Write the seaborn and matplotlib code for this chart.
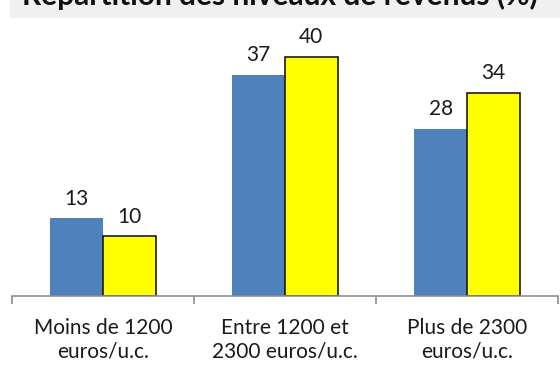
import matplotlib
matplotlib.use("Agg")
import matplotlib.pyplot as plt
from matplotlib.patches import Rectangle
import pandas as pd
import seaborn as sns

# Income brackets (per consumption unit) and the two series shown per bracket
categories = ["Moins de 1200\neuros/u.c.", "Entre 1200 et\n2300 euros/u.c.", "Plus de 2300\neuros/u.c."]
series_names = ["Ensemble", "Échantillon"]
values_first = [13, 37, 28]
values_second = [10, 40, 34]
title = "Répartition des niveaux de revenus (%)"

df = pd.DataFrame({
    "categorie": categories * 2,
    "serie": [series_names[0]] * 3 + [series_names[1]] * 3,
    "pct": values_first + values_second,
})

sns.set_theme(style="white")
plt.rcParams["font.family"] = ["Lato", "DejaVu Sans"]

fig = plt.figure(figsize=(5.6, 3.7), dpi=100)
ax = fig.add_axes([12 / 560, 74 / 370, 546 / 560, 276 / 370])

sns.barplot(data=df, x="categorie", y="pct", hue="serie",
            palette=["#4F81BD", "#FFFF00"], width=0.58, gap=0,
            saturation=1, legend=False, ax=ax, errorbar=None)

# Yellow series drawn with a thin black outline
for bar in ax.containers[1]:
    bar.set_edgecolor("#1a1a1a")
    bar.set_linewidth(1.2)
for bar in ax.containers[0]:
    bar.set_linewidth(0)

for cont in ax.containers:
    ax.bar_label(cont, fmt="%d", padding=7, fontsize=15, color="#1a1a1a")

ax.set_xlim(-0.5, 2.5)
ax.set_ylim(0, 46.2)
ax.set_xlabel("")
ax.set_ylabel("")
ax.set_yticks([])

ax.set_xticks([0, 1, 2])
ax.set_xticklabels(categories, fontsize=15, color="#1a1a1a", linespacing=1.2)
ax.set_xticks([-0.5, 0.5, 1.5, 2.5], minor=True)
ax.tick_params(axis="x", which="major", length=0, pad=16)
ax.tick_params(axis="x", which="minor", length=6, width=1.2, color="#8c8c8c", bottom=True, direction="out")

for side in ["top", "right", "left"]:
    ax.spines[side].set_visible(False)
ax.spines["bottom"].set_color("#8c8c8c")
ax.spines["bottom"].set_linewidth(1.2)

# Header band with the title
fig.patches.append(Rectangle((10 / 560, 1 - 18 / 370), 550 / 560, 18 / 370,
                             transform=fig.transFigure, facecolor="#f0f0f0",
                             edgecolor="none", zorder=0))
fig.text(0.5, 1 - 5 / 370, title, ha="center", va="baseline",
         fontsize=21.5, fontweight="bold", color="#111111")

fig.savefig("out.png", dpi=100)
